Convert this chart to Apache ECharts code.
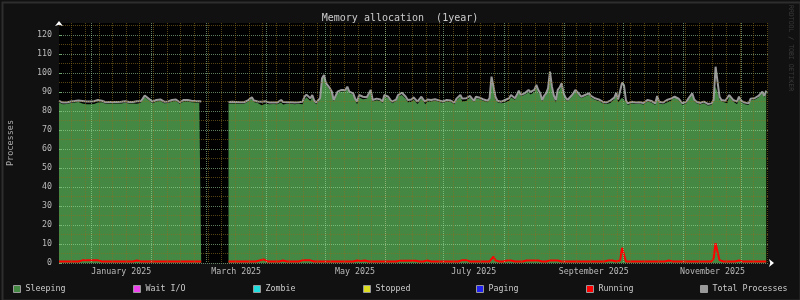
<!DOCTYPE html>
<html><head><meta charset="utf-8">
<script src="https://cdn.jsdelivr.net/npm/echarts@6/dist/echarts.min.js"></script>
<style>html,body{margin:0;padding:0;background:#111;}#c{width:800px;height:300px;}</style>
</head><body><div id="c"></div>
<script>
const chartTitle = 'Memory allocation  (1year)';
const yAxisName = 'Processes';
const watermark = 'RRDTOOL / TOBI OETIKER';
const seriesNames = ['Sleeping', 'Wait I/O', 'Zombie', 'Stopped', 'Paging', 'Running', 'Total Processes'];
const seriesColors = ['#448844', '#ee44ee', '#22dddd', '#dddd22', '#2222ee', '#ff0000', '#999999'];
const startTime = '2024-12-15T14:00:00Z';
const endTime = '2025-12-14T11:36:00Z';
const stepDays = 1;

const total = [
85.3,84.6,84.4,84.4,84.5,84.8,85.0,85.1,85.2,85.4,
85.5,85.4,85.3,85.1,85.0,85.0,85.0,85.1,85.1,85.6,
85.8,85.6,85.4,84.9,84.6,84.7,84.7,84.6,84.7,84.8,
84.7,84.8,84.8,85.0,85.1,84.9,84.7,84.7,84.7,84.9,
85.1,85.2,85.1,86.5,88.2,87.4,86.5,85.5,84.9,85.3,
85.8,86.0,86.1,85.4,84.9,84.9,85.0,85.5,85.8,85.5,
86.0,85.2,84.6,85.2,85.8,85.9,85.8,85.6,85.4,85.3,
85.2,85.1,85.1,85.0,null,null,null,null,null,null,
null,null,null,null,null,null,null,84.7,84.7,84.8,
84.6,84.7,84.8,84.6,84.0,84.6,85.4,85.6,85.8,87.2,
85.5,84.9,85.0,85.1,84.9,85.0,85.1,84.8,84.4,84.4,
84.5,84.4,84.4,85.2,85.8,84.7,84.6,84.6,84.7,84.6,
84.5,84.4,84.9,84.6,84.4,84.9,87.5,88.6,89.3,86.7,
88.4,85.5,84.4,84.9,86.7,97.2,98.9,94.6,95.4,92.0,
90.2,85.8,86.5,90.2,90.5,91.1,91.0,91.1,92.8,90.2,
89.5,89.3,86.5,84.9,88.4,87.6,87.5,88.4,87.2,88.0,
91.1,85.8,85.8,86.5,87.5,86.0,84.9,88.4,87.8,87.5,
86.0,84.9,84.4,86.0,88.4,89.0,89.6,89.3,87.5,85.8,
85.9,86.1,87.2,86.5,84.9,85.8,87.5,86.0,84.9,86.1,
86.0,85.8,86.7,86.2,85.8,85.6,85.4,85.0,84.7,85.8,
86.7,85.5,84.9,84.4,86.5,87.5,88.4,86.5,85.8,86.7,
87.3,87.9,86.5,85.4,87.5,88.0,87.0,86.1,86.0,85.8,
85.4,86.8,98.1,98.4,87.5,85.4,85.0,84.9,85.4,85.8,
86.3,86.7,88.4,87.5,86.7,88.5,90.7,88.5,87.5,89.3,
90.0,91.1,90.0,89.3,91.1,93.7,91.0,89.3,85.8,88.0,
89.3,91.9,100.7,92.8,88.0,85.8,91.1,92.5,94.6,89.3,
87.0,85.8,86.7,88.0,89.3,91.1,90.0,89.3,87.5,88.0,
88.4,88.8,89.3,88.0,87.5,86.7,86.5,86.1,85.5,84.9,
85.8,84.5,84.0,85.5,85.5,87.0,89.5,86.0,86.5,95.0,
93.5,85.5,84.0,84.5,84.9,84.0,84.5,84.9,84.6,84.4,
84.2,84.0,85.8,85.5,85.3,84.5,84.0,87.9,84.9,84.6,
84.4,85.0,85.8,85.8,86.5,87.2,87.5,87.9,86.5,85.8,
84.0,84.4,84.9,86.5,87.5,89.3,86.1,85.0,84.4,84.2,
84.0,84.9,84.2,83.7,83.8,84.0,85.8,103.3,103.3,87.5,
85.8,85.5,85.4,84.9,88.4,89.3,85.8,85.3,84.9,87.5,
85.5,84.9,84.4,84.0,84.0,86.5,87.5,86.7,87.5,87.9,
88.4,90.2,87.9,90.7
];

const sleeping = [
84.5,83.8,83.6,83.6,83.7,84.0,84.2,84.3,84.4,84.6,
84.7,84.6,83.9,83.7,83.6,83.6,83.6,83.7,83.7,84.2,
84.4,84.2,84.6,84.1,83.8,83.9,83.9,83.8,83.9,84.0,
83.9,84.0,84.0,84.2,84.3,84.1,83.9,83.9,83.9,84.1,
83.8,83.9,84.3,85.7,87.4,86.6,85.7,84.7,84.1,84.5,
85.0,85.2,85.3,84.6,84.1,84.1,84.2,84.7,85.0,84.7,
85.2,84.4,83.8,84.4,85.0,85.1,85.0,84.8,84.6,84.5,
84.4,84.3,84.3,84.2,null,null,null,null,null,null,
null,null,null,null,null,null,null,83.9,83.9,84.0,
83.8,83.9,84.0,83.8,83.2,83.8,84.6,84.8,85.0,86.4,
84.7,84.1,84.2,83.8,83.0,83.1,83.8,84.0,83.6,83.6,
83.7,83.6,83.6,84.4,84.5,83.4,83.8,83.8,83.9,83.8,
83.7,83.6,84.1,83.8,83.6,83.5,86.1,87.2,87.9,85.3,
87.6,84.7,83.6,84.1,85.9,96.4,98.1,93.8,94.6,91.2,
89.4,85.0,85.7,89.4,89.7,90.3,90.2,90.3,92.0,89.4,
88.7,88.5,85.7,83.6,87.1,86.6,86.2,87.1,86.4,87.2,
90.3,85.0,85.0,85.7,86.7,85.2,84.1,87.6,87.0,86.7,
85.2,84.1,83.6,85.2,87.6,87.8,88.4,88.1,86.3,84.6,
84.7,84.9,86.0,85.3,83.7,85.0,86.7,85.2,83.6,84.8,
85.2,85.0,85.9,85.4,85.0,84.8,84.6,84.2,83.9,85.0,
85.9,84.7,84.1,83.6,85.7,86.7,87.6,85.0,84.3,85.2,
85.8,87.1,85.7,84.6,86.7,87.2,86.2,85.3,85.2,85.0,
84.6,86.0,96.3,95.1,86.1,84.6,84.2,84.1,84.6,84.5,
85.0,85.4,87.1,86.7,85.9,87.7,89.9,87.7,86.7,88.5,
88.7,89.8,88.7,88.0,89.8,92.4,89.7,88.5,85.0,87.2,
88.5,91.1,99.4,91.5,86.7,84.5,89.8,91.2,93.8,88.5,
86.2,85.0,85.9,87.2,88.5,90.3,89.2,88.5,86.7,87.2,
87.6,88.0,88.5,87.2,86.7,85.9,85.7,85.3,84.7,84.1,
85.0,83.7,82.7,84.2,84.2,86.2,88.7,84.7,85.2,87.0,
86.5,84.7,83.2,83.7,84.1,83.2,83.7,84.1,83.8,83.6,
83.4,83.2,85.0,84.7,84.5,83.7,83.2,87.1,84.1,83.8,
83.6,84.2,84.5,84.5,85.2,86.4,86.7,87.1,85.7,85.0,
83.2,83.6,84.1,85.7,86.7,88.5,85.3,84.2,83.6,83.4,
83.2,84.1,83.4,82.9,83.0,83.2,83.3,92.9,93.8,86.0,
85.0,84.7,84.6,84.1,87.6,88.5,85.0,84.5,83.6,86.2,
84.7,84.1,83.6,83.2,83.2,85.7,86.7,85.9,86.7,87.1,
87.6,89.4,87.1,89.9
];

const running = [
0.8,0.8,0.8,0.8,0.8,0.8,0.8,0.8,0.8,0.8,
0.8,0.8,1.4,1.4,1.4,1.4,1.4,1.4,1.4,1.4,
1.4,1.4,0.8,0.8,0.8,0.8,0.8,0.8,0.8,0.8,
0.8,0.8,0.8,0.8,0.8,0.8,0.8,0.8,0.8,0.8,
1.3,1.3,0.8,0.8,0.8,0.8,0.8,0.8,0.8,0.8,
0.8,0.8,0.8,0.8,0.8,0.8,0.8,0.8,0.8,0.8,
0.8,0.8,0.8,0.8,0.8,0.8,0.8,0.8,0.8,0.8,
0.8,0.8,0.8,0.8,null,null,null,null,null,null,
null,null,null,null,null,null,null,0.8,0.8,0.8,
0.8,0.8,0.8,0.8,0.8,0.8,0.8,0.8,0.8,0.8,
0.8,0.8,0.8,1.3,1.9,1.9,1.3,0.8,0.8,0.8,
0.8,0.8,0.8,0.8,1.3,1.3,0.8,0.8,0.8,0.8,
0.8,0.8,0.8,0.8,0.8,1.4,1.4,1.4,1.4,1.4,
0.8,0.8,0.8,0.8,0.8,0.8,0.8,0.8,0.8,0.8,
0.8,0.8,0.8,0.8,0.8,0.8,0.8,0.8,0.8,0.8,
0.8,0.8,0.8,1.3,1.3,1.0,1.3,1.3,0.8,0.8,
0.8,0.8,0.8,0.8,0.8,0.8,0.8,0.8,0.8,0.8,
0.8,0.8,0.8,0.8,0.8,1.2,1.2,1.2,1.2,1.2,
1.2,1.2,1.2,1.2,1.2,0.8,0.8,0.8,1.3,1.3,
0.8,0.8,0.8,0.8,0.8,0.8,0.8,0.8,0.8,0.8,
0.8,0.8,0.8,0.8,0.8,0.8,0.8,1.5,1.5,1.5,
1.5,0.8,0.8,0.8,0.8,0.8,0.8,0.8,0.8,0.8,
0.8,0.8,1.8,3.3,1.4,0.8,0.8,0.8,0.8,1.3,
1.3,1.3,1.3,0.8,0.8,0.8,0.8,0.8,0.8,0.8,
1.3,1.3,1.3,1.3,1.3,1.3,1.3,0.8,0.8,0.8,
0.8,0.8,1.3,1.3,1.3,1.3,1.3,1.3,0.8,0.8,
0.8,0.8,0.8,0.8,0.8,0.8,0.8,0.8,0.8,0.8,
0.8,0.8,0.8,0.8,0.8,0.8,0.8,0.8,0.8,0.8,
0.8,0.8,1.3,1.3,1.3,0.8,0.8,1.3,1.3,8.0,
7.0,0.8,0.8,0.8,0.8,0.8,0.8,0.8,0.8,0.8,
0.8,0.8,0.8,0.8,0.8,0.8,0.8,0.8,0.8,0.8,
0.8,0.8,1.3,1.3,1.3,0.8,0.8,0.8,0.8,0.8,
0.8,0.8,0.8,0.8,0.8,0.8,0.8,0.8,0.8,0.8,
0.8,0.8,0.8,0.8,0.8,0.8,2.5,10.4,9.5,1.5,
0.8,0.8,0.8,0.8,0.8,0.8,0.8,0.8,1.3,1.3,
0.8,0.8,0.8,0.8,0.8,0.8,0.8,0.8,0.8,0.8,
0.8,0.8,0.8,0.8
];
const waitIo = [], zombie = [], stopped = [], paging = [];

const monthStarts = ['2025-01-01','2025-02-01','2025-03-01','2025-04-01','2025-05-01','2025-06-01',
  '2025-07-01','2025-08-01','2025-09-01','2025-10-01','2025-11-01','2025-12-01'];
const labelMonthStarts = ['2025-01-01','2025-03-01','2025-05-01','2025-07-01','2025-09-01','2025-11-01'];
const labelMonthEnds = ['2025-02-01','2025-04-01','2025-06-01','2025-08-01','2025-10-01','2025-12-01'];
const monthLabels = ['January 2025','March 2025','May 2025','July 2025','September 2025','November 2025'];
const firstWeekLine = '2024-12-22';
const yMajorTicks = [0,10,20,30,40,50,60,70,80,90,100,110,120];
const yMinorTicks = [5,15,25,35,45,55,65,75,85,95,105,115,125];
const yMax = 126.3;

// x axis is measured in days since startTime
const DAY = 86400000;
const ts = s => Date.parse(s.length === 10 ? s + 'T00:00:00Z' : s);
const t0 = ts(startTime);
const dayOf = s => (ts(s) - t0) / DAY;
const xMax = dayOf(endTime);
const toPairs = arr => arr.map((v, i) => [i * stepDays, v]);
const weekLines = [];
for (let d = dayOf(firstWeekLine); d <= xMax; d += 7) weekLines.push(d);
const monthLines = monthStarts.map(dayOf);
const labelPos = labelMonthStarts.map((s, i) => (dayOf(s) + dayOf(labelMonthEnds[i])) / 2);

const FONT = 'DejaVu Sans Mono';
const majorColor = 'rgba(170,225,170,0.55)';
const minorColor = 'rgba(140,110,30,0.6)';

const chart = echarts.init(document.getElementById('c'), null, {renderer: 'canvas'});
const baseX = {type: 'value', min: 0, max: xMax, gridIndex: 0, z: 5, position: 'bottom', offset: 0,
  axisLine: {show: false}, axisLabel: {show: false}, axisTick: {show: false}};
const baseY = {type: 'value', min: 0, max: yMax, z: 5, position: 'left', offset: 0,
  axisLine: {show: false}, axisLabel: {show: false}, axisTick: {show: false}};

const legendLefts = [13, 133, 253, 363, 476, 586, 700];

chart.setOption({
  backgroundColor: '#111111',
  animation: false,
  title: {text: chartTitle, left: 'center', top: 8, textStyle: {color: '#cccccc', fontFamily: FONT, fontSize: 10, fontWeight: 'normal'}},
  grid: {left: 59, right: 32, top: 23, bottom: 37, show: true, backgroundColor: '#000000', borderWidth: 0,
    containLabel: false, outerBoundsMode: 'none'},
  legend: seriesNames.map((n, i) => ({
    data: [n], left: legendLefts[i], top: 285, padding: 0, icon: 'rect', itemWidth: 7, itemHeight: 7, itemGap: 4,
    selectedMode: false,
    itemStyle: {borderColor: '#999999', borderWidth: 1},
    textStyle: {color: '#cccccc', fontFamily: FONT, fontSize: 8.3}
  })),
  xAxis: [
    Object.assign({}, baseX, {axisTick: {show: false, customValues: weekLines},
      splitLine: {show: true, lineStyle: {color: minorColor, type: [1, 1], width: 1}}}),
    Object.assign({}, baseX, {axisTick: {show: false, customValues: monthLines},
      splitLine: {show: true, lineStyle: {color: majorColor, type: [1, 1], width: 1}}}),
    Object.assign({}, baseX, {
      axisLine: {show: true, symbol: ['none', 'arrow'], symbolSize: [6, 5], symbolOffset: [0, 6],
        lineStyle: {color: '#ffffff', width: 0}},
      axisTick: {show: false, customValues: labelPos},
      axisLabel: {show: true, customValues: labelPos, margin: 5, color: '#bbbbbb', fontFamily: FONT, fontSize: 8.3,
        formatter: v => { const k = labelPos.findIndex(p => Math.abs(p - v) < 1e-6); return k >= 0 ? monthLabels[k] : ''; }},
      splitLine: {show: false}})
  ],
  yAxis: [
    Object.assign({}, baseY, {axisTick: {show: false, customValues: yMinorTicks},
      splitLine: {show: true, lineStyle: {color: minorColor, type: [1, 1], width: 1}}}),
    Object.assign({}, baseY, {axisTick: {show: false, customValues: yMajorTicks},
      splitLine: {show: true, lineStyle: {color: majorColor, type: [1, 1], width: 1}},
      axisLine: {show: true, symbol: ['none', 'arrow'], symbolSize: [6, 5], symbolOffset: [0, 2],
        lineStyle: {color: '#ffffff', width: 0}},
      axisLabel: {show: true, customValues: yMajorTicks, margin: 7, color: '#bbbbbb', fontFamily: FONT, fontSize: 8.3},
      name: yAxisName, nameLocation: 'middle', nameGap: 44, nameRotate: 90,
      nameTextStyle: {color: '#aaaaaa', fontFamily: FONT, fontSize: 8.5}}),
    Object.assign({}, baseY, {position: 'right', axisTick: {show: true, inside: false, length: 3, customValues: yMajorTicks,
      lineStyle: {color: 'rgba(120,190,120,0.8)'}}, splitLine: {show: false}})
  ],
  series: [
    {name: seriesNames[0], type: 'line', xAxisIndex: 0, yAxisIndex: 0, data: toPairs(sleeping), showSymbol: false,
      lineStyle: {width: 0}, areaStyle: {color: seriesColors[0], opacity: 1}, itemStyle: {color: seriesColors[0]}, z: 1},
    {name: seriesNames[1], type: 'line', data: waitIo, itemStyle: {color: seriesColors[1]}},
    {name: seriesNames[2], type: 'line', data: zombie, itemStyle: {color: seriesColors[2]}},
    {name: seriesNames[3], type: 'line', data: stopped, itemStyle: {color: seriesColors[3]}},
    {name: seriesNames[4], type: 'line', data: paging, itemStyle: {color: seriesColors[4]}},
    {name: seriesNames[5], type: 'line', xAxisIndex: 0, yAxisIndex: 0, data: toPairs(running), showSymbol: false,
      lineStyle: {width: 2, color: seriesColors[5]}, itemStyle: {color: seriesColors[5]}, z: 3},
    {name: seriesNames[6], type: 'line', xAxisIndex: 0, yAxisIndex: 0, data: toPairs(total), showSymbol: false,
      lineStyle: {width: 2, color: seriesColors[6]}, itemStyle: {color: seriesColors[6]}, z: 2}
  ],
  graphic: [
    {type: 'rect', left: 0, top: 0, z: 100, silent: true,
      shape: {x: 1, y: 1, width: 798, height: 298}, style: {fill: null, stroke: '#2e2e2e', lineWidth: 2}},
    {type: 'text', right: 6, top: 5, rotation: -Math.PI / 2,
      style: {text: watermark, fill: '#3c3c3c', font: '6.5px "DejaVu Sans Mono"'}}
  ]
});
</script></body></html>
